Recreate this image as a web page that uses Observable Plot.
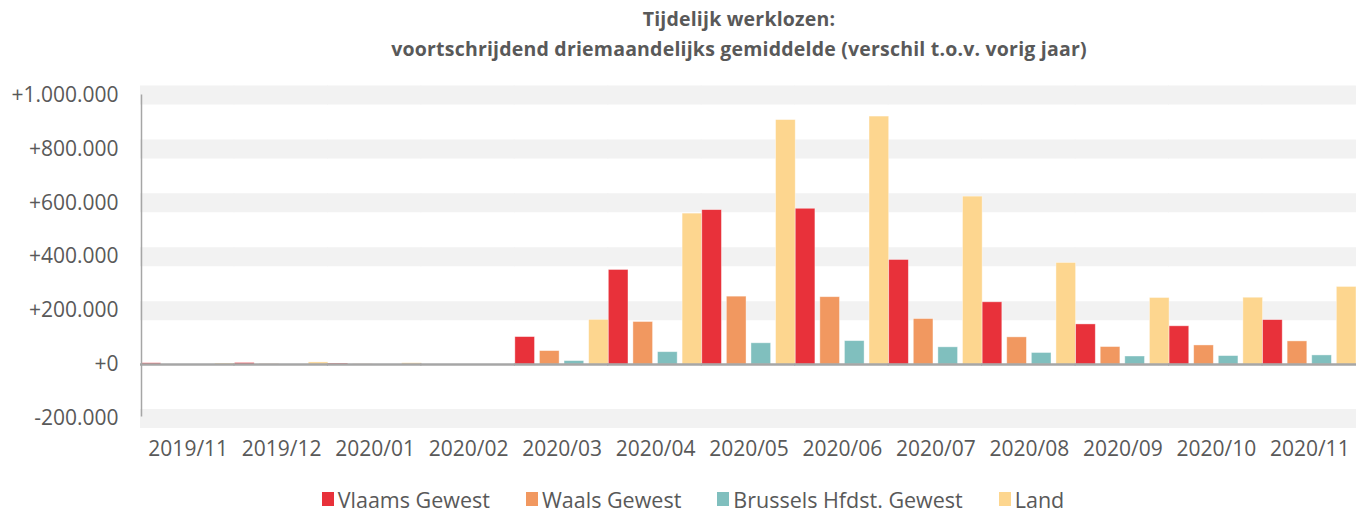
<!DOCTYPE html>
<html>
<head>
<meta charset="utf-8">
<script src="https://cdn.jsdelivr.net/npm/d3@7"></script>
<script src="https://cdn.jsdelivr.net/npm/@observablehq/plot@0.6"></script>
<style>
  html, body { margin: 0; padding: 0; background: #fff; }
  body { width: 1364px; height: 513px; overflow: hidden; font-family: "Open Sans", sans-serif; color: #595959; }
  #title { box-sizing: border-box; height: 70px; padding-top: 4px; padding-left: 114px; text-align: center; font-weight: bold; font-size: 19.5px; letter-spacing: 0.2px; line-height: 30px; color: #595959; }
  #chart svg { display: block; }
  #legend { box-sizing: border-box; height: 33px; padding-top: 5px; padding-left: 22px; display: flex; justify-content: center; align-items: center; gap: 36px; font-size: 21.5px; color: #595959; }
  .item { display: flex; align-items: center; gap: 4px; }
  .sw { width: 12px; height: 14px; display: inline-block; }
</style>
</head>
<body>
<div id="title">Tijdelijk werklozen:<br>voortschrijdend driemaandelijks gemiddelde (verschil t.o.v. vorig jaar)</div>
<div id="chart"></div>
<div id="legend"></div>
<script>
const months = ["2019/11","2019/12","2020/01","2020/02","2020/03","2020/04","2020/05","2020/06","2020/07","2020/08","2020/09","2020/10","2020/11"];
const series = ["Vlaams Gewest","Waals Gewest","Brussels Hfdst. Gewest","Land"];
const colors = ["#e8313a","#f19860","#80bfbe","#fdd68f"];
const vlaams   = [5000, 6000, 4000, -500, 102000, 351000, 573000, 578000, 388000, 231000, 149000, 142000, 165000];
const waals    = [-800, 1500, 1000, -300, 50000, 158000, 252000, 250000, 169000, 101000, 65000, 71000, 86000];
const brussels = [-200, 300, 200, -200, 13000, 46000, 79000, 87000, 64000, 43000, 30000, 31500, 34000];
const land     = [4000, 8000, 5000, -1000, 166000, 560000, 907000, 920000, 623000, 377000, 247000, 248000, 288000];
const yTicks = [-200000, 0, 200000, 400000, 600000, 800000, 1000000];
const bandTicks = [-200000, 200000, 400000, 600000, 800000, 1000000];

const seriesValues = [vlaams, waals, brussels, land];
const data = [];
months.forEach((m, i) => series.forEach((s, j) => data.push({month: m, series: s, value: seriesValues[j][i]})));

const W = 1364, H = 410, mL = 141, mR = 8, mT = 24.5, mB = 62;
const facetW = (W - mL - mR) / months.length;
const step = facetW / (4 - 0.2);
const bw = step * 0.8;

const fmt = d => (d >= 0 ? "+" : "-") + d3.format(",")(Math.abs(d)).replace(/,/g, ".");

const plot = Plot.plot({
  width: W, height: H,
  marginLeft: mL, marginRight: mR, marginTop: mT, marginBottom: mB,
  style: {fontFamily: "Open Sans", color: "#595959", background: "white", overflow: "visible"},
  fx: {domain: months, padding: 0, round: false},
  x: {domain: series, paddingInner: 0.2, paddingOuter: 0, round: false, axis: null},
  y: {domain: [-200000, 1000000]},
  color: {domain: series, range: colors},
  marks: [
    Plot.ruleY(bandTicks, {stroke: "#f2f2f2", strokeWidth: 19, insetLeft: -1}),
    Plot.barY(data, {fx: "month", x: "series", y: "value", fill: "series", stroke: "white", strokeOpacity: 0.5, strokeWidth: 0.8}),
    Plot.ruleY([0], {stroke: "#a6a6a6", strokeWidth: 2.5, insetLeft: -1}),
    Plot.ruleX([{month: months[0], series: series[0]}], {fx: "month", x: "series", y1: -200000 + 6000, y2: 1000000, stroke: "#a6a6a6", strokeWidth: 1.5, dx: -bw / 2}),
    Plot.axisY({anchor: "left", ticks: yTicks, tickSize: 0, tickPadding: 23, tickFormat: fmt, fontSize: 21, color: "#595959", label: null}),
    Plot.axisFx({anchor: "bottom", tickSize: 0, tickPadding: 23, fontSize: 21, color: "#595959", label: null})
  ]
});
document.getElementById("chart").appendChild(plot);

const legend = document.getElementById("legend");
series.forEach((s, i) => {
  const it = document.createElement("div");
  it.className = "item";
  const sw = document.createElement("span");
  sw.className = "sw";
  sw.style.background = colors[i];
  const t = document.createElement("span");
  t.textContent = s;
  it.appendChild(sw); it.appendChild(t);
  legend.appendChild(it);
});
</script>
</body>
</html>
